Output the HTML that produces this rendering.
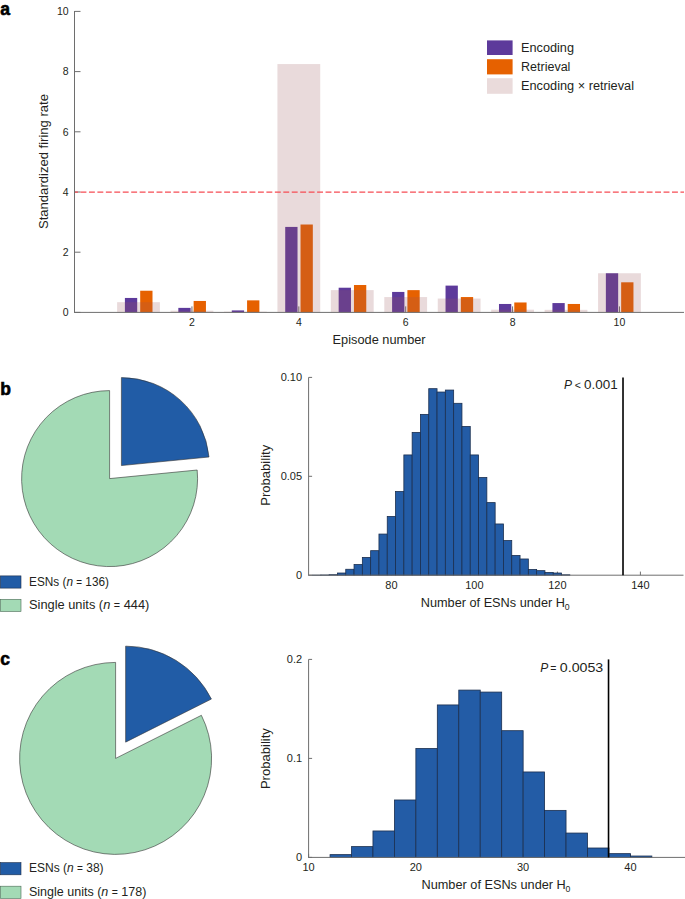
<!DOCTYPE html>
<html><head><meta charset="utf-8"><style>
html,body{margin:0;padding:0;background:#fff;}
svg{display:block;}
text{font-family:"Liberation Sans",sans-serif;}
</style></head><body>
<svg width="685" height="899" viewBox="0 0 685 899" font-family="Liberation Sans, sans-serif">
<rect width="685" height="899" fill="#fff"/>
<text x="0.30" y="15.00" font-size="17.5" text-anchor="start" fill="#000" font-weight="bold" stroke="#000" stroke-width="0.6">a</text>
<rect x="124.90" y="297.95" width="12.30" height="14.45" fill="#5d3a9b" />
<rect x="140.20" y="290.73" width="12.30" height="21.67" fill="#e66100" />
<rect x="178.34" y="307.88" width="12.30" height="4.51" fill="#5d3a9b" />
<rect x="193.64" y="300.96" width="12.30" height="11.44" fill="#e66100" />
<rect x="231.78" y="310.41" width="12.30" height="1.99" fill="#5d3a9b" />
<rect x="247.08" y="300.36" width="12.30" height="12.04" fill="#e66100" />
<rect x="285.22" y="226.92" width="12.30" height="85.48" fill="#5d3a9b" />
<rect x="300.52" y="224.51" width="12.30" height="87.89" fill="#e66100" />
<rect x="338.66" y="287.72" width="12.30" height="24.68" fill="#5d3a9b" />
<rect x="353.96" y="285.01" width="12.30" height="27.39" fill="#e66100" />
<rect x="392.10" y="291.93" width="12.30" height="20.47" fill="#5d3a9b" />
<rect x="407.40" y="290.13" width="12.30" height="22.27" fill="#e66100" />
<rect x="445.54" y="285.61" width="12.30" height="26.79" fill="#5d3a9b" />
<rect x="460.84" y="297.05" width="12.30" height="15.35" fill="#e66100" />
<rect x="498.98" y="303.97" width="12.30" height="8.43" fill="#5d3a9b" />
<rect x="514.28" y="302.47" width="12.30" height="9.93" fill="#e66100" />
<rect x="552.42" y="303.07" width="12.30" height="9.33" fill="#5d3a9b" />
<rect x="567.72" y="303.97" width="12.30" height="8.43" fill="#e66100" />
<rect x="605.86" y="273.27" width="12.30" height="39.13" fill="#5d3a9b" />
<rect x="621.16" y="282.30" width="12.30" height="30.10" fill="#e66100" />
<line x1="191.94" y1="312.40" x2="191.94" y2="306.40" stroke="#6e6e6e" stroke-width="1" />
<line x1="298.82" y1="312.40" x2="298.82" y2="306.40" stroke="#6e6e6e" stroke-width="1" />
<line x1="405.70" y1="312.40" x2="405.70" y2="306.40" stroke="#6e6e6e" stroke-width="1" />
<line x1="512.58" y1="312.40" x2="512.58" y2="306.40" stroke="#6e6e6e" stroke-width="1" />
<line x1="619.46" y1="312.40" x2="619.46" y2="306.40" stroke="#6e6e6e" stroke-width="1" />
<rect x="117.10" y="302.17" width="42.80" height="10.23" fill="rgb(156,88,93)" fill-opacity="0.22"/>
<rect x="170.54" y="310.68" width="42.80" height="1.72" fill="rgb(156,88,93)" fill-opacity="0.22"/>
<rect x="223.98" y="311.62" width="42.80" height="0.78" fill="rgb(156,88,93)" fill-opacity="0.22"/>
<rect x="277.42" y="64.07" width="42.80" height="248.33" fill="rgb(156,88,93)" fill-opacity="0.22"/>
<rect x="330.86" y="290.13" width="42.80" height="22.27" fill="rgb(156,88,93)" fill-opacity="0.22"/>
<rect x="384.30" y="297.05" width="42.80" height="15.35" fill="rgb(156,88,93)" fill-opacity="0.22"/>
<rect x="437.74" y="298.55" width="42.80" height="13.85" fill="rgb(156,88,93)" fill-opacity="0.22"/>
<rect x="491.18" y="309.69" width="42.80" height="2.71" fill="rgb(156,88,93)" fill-opacity="0.22"/>
<rect x="544.62" y="309.84" width="42.80" height="2.56" fill="rgb(156,88,93)" fill-opacity="0.22"/>
<rect x="598.06" y="273.27" width="42.80" height="39.13" fill="rgb(156,88,93)" fill-opacity="0.22"/>
<line x1="74.50" y1="11.00" x2="74.50" y2="312.90" stroke="#6e6e6e" stroke-width="1" />
<line x1="74.50" y1="312.40" x2="684.00" y2="312.40" stroke="#6e6e6e" stroke-width="1" />
<line x1="74.50" y1="312.40" x2="80.50" y2="312.40" stroke="#6e6e6e" stroke-width="1" />
<text x="68.60" y="316.10" font-size="10.5" text-anchor="end" fill="#231f20" >0</text>
<line x1="74.50" y1="252.20" x2="80.50" y2="252.20" stroke="#6e6e6e" stroke-width="1" />
<text x="68.60" y="255.90" font-size="10.5" text-anchor="end" fill="#231f20" >2</text>
<line x1="74.50" y1="192.00" x2="80.50" y2="192.00" stroke="#6e6e6e" stroke-width="1" />
<text x="68.60" y="195.70" font-size="10.5" text-anchor="end" fill="#231f20" >4</text>
<line x1="74.50" y1="131.80" x2="80.50" y2="131.80" stroke="#6e6e6e" stroke-width="1" />
<text x="68.60" y="135.50" font-size="10.5" text-anchor="end" fill="#231f20" >6</text>
<line x1="74.50" y1="71.60" x2="80.50" y2="71.60" stroke="#6e6e6e" stroke-width="1" />
<text x="68.60" y="75.30" font-size="10.5" text-anchor="end" fill="#231f20" >8</text>
<line x1="74.50" y1="11.40" x2="80.50" y2="11.40" stroke="#6e6e6e" stroke-width="1" />
<text x="68.60" y="15.10" font-size="10.5" text-anchor="end" fill="#231f20" >10</text>
<text x="191.94" y="326.00" font-size="10.5" text-anchor="middle" fill="#231f20" >2</text>
<text x="298.82" y="326.00" font-size="10.5" text-anchor="middle" fill="#231f20" >4</text>
<text x="405.70" y="326.00" font-size="10.5" text-anchor="middle" fill="#231f20" >6</text>
<text x="512.58" y="326.00" font-size="10.5" text-anchor="middle" fill="#231f20" >8</text>
<text x="619.46" y="326.00" font-size="10.5" text-anchor="middle" fill="#231f20" >10</text>
<line x1="75.00" y1="192.10" x2="684.00" y2="192.10" stroke="#f64c54" stroke-width="1.4" stroke-dasharray="5.9 2.55" stroke-dashoffset="2.95"/>
<text x="379.10" y="344.00" font-size="12" text-anchor="middle" fill="#231f20" textLength="93" lengthAdjust="spacingAndGlyphs">Episode number</text>
<text transform="translate(47.8,161.5) rotate(-90)" font-size="12" text-anchor="middle" fill="#231f20" textLength="135" lengthAdjust="spacingAndGlyphs">Standardized firing rate</text>
<rect x="487.00" y="40.40" width="25.60" height="14.60" fill="#5d3a9b" />
<rect x="487.00" y="59.20" width="25.60" height="15.20" fill="#e66100" />
<rect x="487.00" y="78.20" width="25.60" height="15.60" fill="rgb(234,219,219)" />
<text x="521.00" y="51.60" font-size="12.3" text-anchor="start" fill="#231f20" textLength="53" lengthAdjust="spacingAndGlyphs">Encoding</text>
<text x="521.00" y="70.60" font-size="12.3" text-anchor="start" fill="#231f20" textLength="49.4" lengthAdjust="spacingAndGlyphs">Retrieval</text>
<text x="521.00" y="89.60" font-size="12.3" text-anchor="start" fill="#231f20" textLength="113" lengthAdjust="spacingAndGlyphs">Encoding × retrieval</text>
<text x="0.20" y="395.30" font-size="17.5" text-anchor="start" fill="#000" font-weight="bold" stroke="#000" stroke-width="0.6">b</text>
<path d="M109.60,478.60 L197.18,470.03 A88,88 0 1 1 109.60,390.60 Z" fill="#a3dab5" stroke="#333" stroke-width="0.6" stroke-linejoin="miter"/>
<path d="M121.42,465.56 L121.42,377.56 A88,88 0 0 1 209.01,457.00 Z" fill="#215ca6" stroke="#333" stroke-width="0.6" stroke-linejoin="miter"/>
<rect x="0.30" y="575.90" width="20.70" height="12.20" fill="#215ca6" stroke="#1c2e4a" stroke-width="0.6"/>
<rect x="0.30" y="599.30" width="20.70" height="12.20" fill="#a3dab5" stroke="#4a6a55" stroke-width="0.6"/>
<text x="29.00" y="586.00" font-size="12.5" text-anchor="start" fill="#231f20" textLength="80" lengthAdjust="spacingAndGlyphs">ESNs (<tspan font-style="italic">n</tspan> <tspan font-size="10.5">=</tspan> 136)</text>
<text x="29.00" y="609.00" font-size="12.5" text-anchor="start" fill="#231f20" textLength="120.4" lengthAdjust="spacingAndGlyphs">Single units (<tspan font-style="italic">n</tspan> <tspan font-size="10.5">=</tspan> 444)</text>
<text x="0.20" y="664.60" font-size="17.5" text-anchor="start" fill="#000" font-weight="bold" stroke="#000" stroke-width="0.6">c</text>
<path d="M115.60,758.40 L201.39,715.32 A96,96 0 1 1 115.60,662.40 Z" fill="#a3dab5" stroke="#333" stroke-width="0.6" stroke-linejoin="miter"/>
<path d="M125.63,742.14 L125.63,646.14 A96,96 0 0 1 211.42,699.06 Z" fill="#215ca6" stroke="#333" stroke-width="0.6" stroke-linejoin="miter"/>
<rect x="0.30" y="862.60" width="20.70" height="12.20" fill="#215ca6" stroke="#1c2e4a" stroke-width="0.6"/>
<rect x="0.30" y="886.20" width="20.70" height="12.20" fill="#a3dab5" stroke="#4a6a55" stroke-width="0.6"/>
<text x="29.00" y="872.40" font-size="12.5" text-anchor="start" fill="#231f20" textLength="74.6" lengthAdjust="spacingAndGlyphs">ESNs (<tspan font-style="italic">n</tspan> <tspan font-size="10.5">=</tspan> 38)</text>
<text x="29.00" y="895.60" font-size="12.5" text-anchor="start" fill="#231f20" textLength="117.4" lengthAdjust="spacingAndGlyphs">Single units (<tspan font-style="italic">n</tspan> <tspan font-size="10.5">=</tspan> 178)</text>
<line x1="391.40" y1="575.20" x2="391.40" y2="571.60" stroke="#6e6e6e" stroke-width="1" />
<text x="391.40" y="589.00" font-size="11" text-anchor="middle" fill="#231f20" >80</text>
<line x1="474.40" y1="575.20" x2="474.40" y2="571.60" stroke="#6e6e6e" stroke-width="1" />
<text x="474.40" y="589.00" font-size="11" text-anchor="middle" fill="#231f20" >100</text>
<line x1="557.40" y1="575.20" x2="557.40" y2="571.60" stroke="#6e6e6e" stroke-width="1" />
<text x="557.40" y="589.00" font-size="11" text-anchor="middle" fill="#231f20" >120</text>
<line x1="640.40" y1="575.20" x2="640.40" y2="571.60" stroke="#6e6e6e" stroke-width="1" />
<text x="640.40" y="589.00" font-size="11" text-anchor="middle" fill="#231f20" >140</text>
<rect x="312.55" y="575.14" width="8.30" height="0.06" fill="#235ca6" stroke="#1b2f4f" stroke-width="0.8"/>
<rect x="320.85" y="575.00" width="8.30" height="0.20" fill="#235ca6" stroke="#1b2f4f" stroke-width="0.8"/>
<rect x="329.15" y="574.71" width="8.30" height="0.49" fill="#235ca6" stroke="#1b2f4f" stroke-width="0.8"/>
<rect x="337.45" y="573.02" width="8.30" height="2.18" fill="#235ca6" stroke="#1b2f4f" stroke-width="0.8"/>
<rect x="345.75" y="569.27" width="8.30" height="5.93" fill="#235ca6" stroke="#1b2f4f" stroke-width="0.8"/>
<rect x="354.05" y="564.52" width="8.30" height="10.68" fill="#235ca6" stroke="#1b2f4f" stroke-width="0.8"/>
<rect x="362.35" y="557.40" width="8.30" height="17.80" fill="#235ca6" stroke="#1b2f4f" stroke-width="0.8"/>
<rect x="370.65" y="550.67" width="8.30" height="24.53" fill="#235ca6" stroke="#1b2f4f" stroke-width="0.8"/>
<rect x="378.95" y="534.06" width="8.30" height="41.14" fill="#235ca6" stroke="#1b2f4f" stroke-width="0.8"/>
<rect x="387.25" y="516.45" width="8.30" height="58.75" fill="#235ca6" stroke="#1b2f4f" stroke-width="0.8"/>
<rect x="395.55" y="491.53" width="8.30" height="83.67" fill="#235ca6" stroke="#1b2f4f" stroke-width="0.8"/>
<rect x="403.85" y="454.94" width="8.30" height="120.26" fill="#235ca6" stroke="#1b2f4f" stroke-width="0.8"/>
<rect x="412.15" y="432.39" width="8.30" height="142.81" fill="#235ca6" stroke="#1b2f4f" stroke-width="0.8"/>
<rect x="420.45" y="414.39" width="8.30" height="160.81" fill="#235ca6" stroke="#1b2f4f" stroke-width="0.8"/>
<rect x="428.75" y="388.67" width="8.30" height="186.53" fill="#235ca6" stroke="#1b2f4f" stroke-width="0.8"/>
<rect x="437.05" y="392.04" width="8.30" height="183.16" fill="#235ca6" stroke="#1b2f4f" stroke-width="0.8"/>
<rect x="445.35" y="390.06" width="8.30" height="185.14" fill="#235ca6" stroke="#1b2f4f" stroke-width="0.8"/>
<rect x="453.65" y="403.31" width="8.30" height="171.89" fill="#235ca6" stroke="#1b2f4f" stroke-width="0.8"/>
<rect x="461.95" y="426.45" width="8.30" height="148.75" fill="#235ca6" stroke="#1b2f4f" stroke-width="0.8"/>
<rect x="470.25" y="454.94" width="8.30" height="120.26" fill="#235ca6" stroke="#1b2f4f" stroke-width="0.8"/>
<rect x="478.55" y="477.49" width="8.30" height="97.71" fill="#235ca6" stroke="#1b2f4f" stroke-width="0.8"/>
<rect x="486.85" y="502.61" width="8.30" height="72.59" fill="#235ca6" stroke="#1b2f4f" stroke-width="0.8"/>
<rect x="495.15" y="523.97" width="8.30" height="51.23" fill="#235ca6" stroke="#1b2f4f" stroke-width="0.8"/>
<rect x="503.45" y="540.59" width="8.30" height="34.62" fill="#235ca6" stroke="#1b2f4f" stroke-width="0.8"/>
<rect x="511.75" y="555.42" width="8.30" height="19.78" fill="#235ca6" stroke="#1b2f4f" stroke-width="0.8"/>
<rect x="520.05" y="558.98" width="8.30" height="16.22" fill="#235ca6" stroke="#1b2f4f" stroke-width="0.8"/>
<rect x="528.35" y="569.46" width="8.30" height="5.74" fill="#235ca6" stroke="#1b2f4f" stroke-width="0.8"/>
<rect x="536.65" y="570.65" width="8.30" height="4.55" fill="#235ca6" stroke="#1b2f4f" stroke-width="0.8"/>
<rect x="544.95" y="572.43" width="8.30" height="2.77" fill="#235ca6" stroke="#1b2f4f" stroke-width="0.8"/>
<rect x="553.25" y="573.02" width="8.30" height="2.18" fill="#235ca6" stroke="#1b2f4f" stroke-width="0.8"/>
<rect x="561.55" y="574.80" width="8.30" height="0.40" fill="#235ca6" stroke="#1b2f4f" stroke-width="0.8"/>
<line x1="308.60" y1="377.40" x2="308.60" y2="575.70" stroke="#6e6e6e" stroke-width="1" />
<line x1="308.60" y1="575.20" x2="683.50" y2="575.20" stroke="#6e6e6e" stroke-width="1" />
<line x1="308.60" y1="575.20" x2="312.10" y2="575.20" stroke="#6e6e6e" stroke-width="1" />
<text x="302.10" y="579.10" font-size="11" text-anchor="end" fill="#231f20" >0</text>
<line x1="308.60" y1="476.30" x2="312.10" y2="476.30" stroke="#6e6e6e" stroke-width="1" />
<text x="302.10" y="480.20" font-size="11" text-anchor="end" fill="#231f20" >0.05</text>
<line x1="308.60" y1="377.40" x2="312.10" y2="377.40" stroke="#6e6e6e" stroke-width="1" />
<text x="302.10" y="381.30" font-size="11" text-anchor="end" fill="#231f20" >0.10</text>
<line x1="623.01" y1="377.40" x2="623.01" y2="575.20" stroke="#000" stroke-width="1.6" />
<text x="564.00" y="388.60" font-size="12" text-anchor="start" fill="#231f20" ><tspan font-style="italic">P</tspan></text>
<text x="577.70" y="388.60" font-size="10.5" text-anchor="middle" fill="#231f20" >&lt;</text>
<text transform="translate(584.00,388.60) scale(1.12,1)" font-size="12" fill="#231f20">0.001</text>
<text x="420.70" y="606.50" font-size="12" text-anchor="start" fill="#231f20" textLength="144.3" lengthAdjust="spacingAndGlyphs">Number of ESNs under H</text>
<text x="564.70" y="610.10" font-size="8.7" text-anchor="start" fill="#231f20" >0</text>
<text transform="translate(270.40,475.30) rotate(-90)" font-size="12" text-anchor="middle" fill="#231f20" textLength="61" lengthAdjust="spacingAndGlyphs">Probability</text>
<line x1="308.60" y1="857.40" x2="308.60" y2="853.80" stroke="#6e6e6e" stroke-width="1" />
<text x="308.60" y="871.20" font-size="11" text-anchor="middle" fill="#231f20" >10</text>
<line x1="415.87" y1="857.40" x2="415.87" y2="853.80" stroke="#6e6e6e" stroke-width="1" />
<text x="415.87" y="871.20" font-size="11" text-anchor="middle" fill="#231f20" >20</text>
<line x1="523.14" y1="857.40" x2="523.14" y2="853.80" stroke="#6e6e6e" stroke-width="1" />
<text x="523.14" y="871.20" font-size="11" text-anchor="middle" fill="#231f20" >30</text>
<line x1="630.41" y1="857.40" x2="630.41" y2="853.80" stroke="#6e6e6e" stroke-width="1" />
<text x="630.41" y="871.20" font-size="11" text-anchor="middle" fill="#231f20" >40</text>
<rect x="330.05" y="854.63" width="21.45" height="2.77" fill="#235ca6" stroke="#1b2f4f" stroke-width="0.8"/>
<rect x="351.51" y="846.61" width="21.45" height="10.79" fill="#235ca6" stroke="#1b2f4f" stroke-width="0.8"/>
<rect x="372.96" y="830.97" width="21.45" height="26.43" fill="#235ca6" stroke="#1b2f4f" stroke-width="0.8"/>
<rect x="394.42" y="799.98" width="21.45" height="57.42" fill="#235ca6" stroke="#1b2f4f" stroke-width="0.8"/>
<rect x="415.87" y="748.50" width="21.45" height="108.90" fill="#235ca6" stroke="#1b2f4f" stroke-width="0.8"/>
<rect x="437.32" y="704.94" width="21.45" height="152.46" fill="#235ca6" stroke="#1b2f4f" stroke-width="0.8"/>
<rect x="458.78" y="690.09" width="21.45" height="167.31" fill="#235ca6" stroke="#1b2f4f" stroke-width="0.8"/>
<rect x="480.23" y="692.07" width="21.45" height="165.33" fill="#235ca6" stroke="#1b2f4f" stroke-width="0.8"/>
<rect x="501.69" y="730.68" width="21.45" height="126.72" fill="#235ca6" stroke="#1b2f4f" stroke-width="0.8"/>
<rect x="523.14" y="771.96" width="21.45" height="85.44" fill="#235ca6" stroke="#1b2f4f" stroke-width="0.8"/>
<rect x="544.59" y="810.38" width="21.45" height="47.02" fill="#235ca6" stroke="#1b2f4f" stroke-width="0.8"/>
<rect x="566.05" y="833.05" width="21.45" height="24.35" fill="#235ca6" stroke="#1b2f4f" stroke-width="0.8"/>
<rect x="587.50" y="848.00" width="21.45" height="9.40" fill="#235ca6" stroke="#1b2f4f" stroke-width="0.8"/>
<rect x="608.96" y="853.64" width="21.45" height="3.76" fill="#235ca6" stroke="#1b2f4f" stroke-width="0.8"/>
<rect x="630.41" y="856.01" width="21.45" height="1.39" fill="#235ca6" stroke="#1b2f4f" stroke-width="0.8"/>
<line x1="308.60" y1="659.40" x2="308.60" y2="857.90" stroke="#6e6e6e" stroke-width="1" />
<line x1="308.60" y1="857.40" x2="685.00" y2="857.40" stroke="#6e6e6e" stroke-width="1" />
<line x1="308.60" y1="857.40" x2="312.10" y2="857.40" stroke="#6e6e6e" stroke-width="1" />
<text x="302.10" y="861.30" font-size="11" text-anchor="end" fill="#231f20" >0</text>
<line x1="308.60" y1="758.40" x2="312.10" y2="758.40" stroke="#6e6e6e" stroke-width="1" />
<text x="302.10" y="762.30" font-size="11" text-anchor="end" fill="#231f20" >0.1</text>
<line x1="308.60" y1="659.40" x2="312.10" y2="659.40" stroke="#6e6e6e" stroke-width="1" />
<text x="302.10" y="663.30" font-size="11" text-anchor="end" fill="#231f20" >0.2</text>
<line x1="608.53" y1="659.40" x2="608.53" y2="857.40" stroke="#000" stroke-width="1.6" />
<text x="540.20" y="672.30" font-size="12" text-anchor="start" fill="#231f20" ><tspan font-style="italic">P</tspan></text>
<text x="553.30" y="672.30" font-size="10.5" text-anchor="middle" fill="#231f20" >=</text>
<text transform="translate(559.80,672.30) scale(1.185,1)" font-size="12" fill="#231f20">0.0053</text>
<text x="421.50" y="888.70" font-size="12" text-anchor="start" fill="#231f20" textLength="144.3" lengthAdjust="spacingAndGlyphs">Number of ESNs under H</text>
<text x="565.50" y="892.30" font-size="8.7" text-anchor="start" fill="#231f20" >0</text>
<text transform="translate(270.40,758.60) rotate(-90)" font-size="12" text-anchor="middle" fill="#231f20" textLength="61" lengthAdjust="spacingAndGlyphs">Probability</text>
</svg>
</body></html>
